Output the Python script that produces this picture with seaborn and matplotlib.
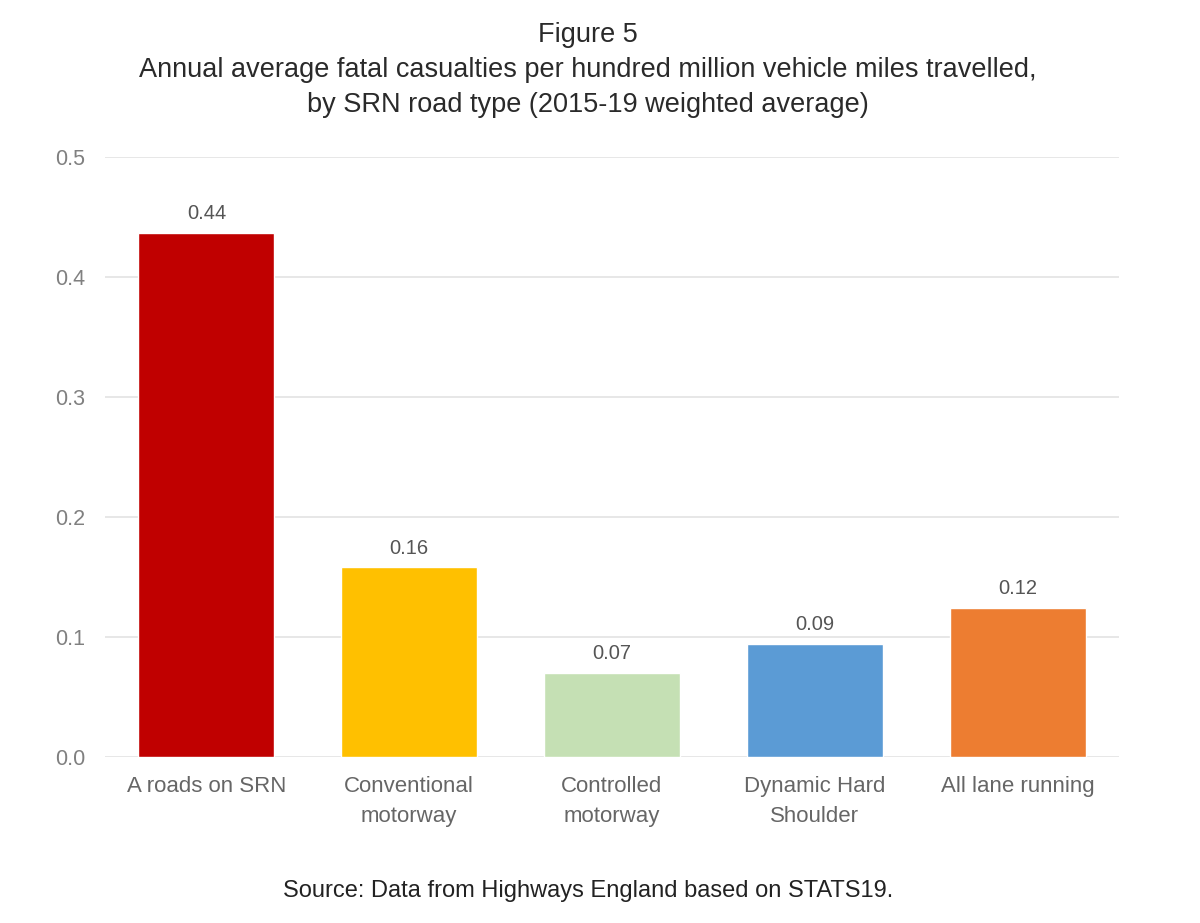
import matplotlib
matplotlib.use("Agg")
import matplotlib.pyplot as plt
import seaborn as sns
import pandas as pd

categories = ["A roads on SRN", "Conventional\nmotorway", "Controlled\nmotorway",
              "Dynamic Hard\nShoulder", "All lane running"]
values = [0.437, 0.158, 0.070, 0.094, 0.124]
value_labels = ["0.44", "0.16", "0.07", "0.09", "0.12"]
colors = ["#C00000", "#FFC000", "#C5E0B4", "#5B9BD5", "#ED7D31"]
yticks = [0.0, 0.1, 0.2, 0.3, 0.4, 0.5]

df = pd.DataFrame({"road_type": categories, "rate": values})

sns.set_theme(style="white")
plt.rcParams["font.family"] = ["Liberation Sans", "DejaVu Sans"]

fig = plt.figure(figsize=(12, 9.23), dpi=100)
ax = fig.add_axes([0.0875, 0.18, 0.845, 0.65])

sns.barplot(data=df, x="road_type", y="rate", hue="road_type", palette=colors,
            legend=False, width=0.67, saturation=1, ax=ax, zorder=3)

for i, (v, lab) in enumerate(zip(values, value_labels)):
    ax.text(i, v + 0.008, lab, ha="center", va="bottom", fontsize=14.5, color="#555555")

ax.set_ylim(0, 0.5)
ax.set_yticks(yticks)
ax.set_yticklabels([f"{t:.1f}" for t in yticks], fontsize=15.5, color="#808080")
ax.set_xticks(range(len(categories)))
ax.set_xticklabels(categories, fontsize=16, color="#666666", linespacing=1.55)
ax.tick_params(axis="x", length=0, pad=14)
ax.tick_params(axis="y", length=0, pad=14)
ax.yaxis.grid(True, color="#e3e3e3", linewidth=1.2, zorder=0)
ax.set_xlabel("")
ax.set_ylabel("")
for s in ax.spines.values():
    s.set_visible(False)

title_kw = dict(ha="center", va="center", fontsize=19.5, color="#2a2a2a")
fig.text(0.49, 0.962, "Figure 5", **title_kw)
fig.text(0.49, 0.924, "Annual average fatal casualties per hundred million vehicle miles travelled,",
         **title_kw)
fig.text(0.49, 0.886, "by SRN road type (2015-19 weighted average)", **title_kw)
fig.text(0.49, 0.035, "Source: Data from Highways England based on STATS19.",
         ha="center", va="center", fontsize=17,
         family=["Liberation Sans Narrow", "Liberation Sans", "DejaVu Sans"], color="#222222")

fig.savefig("out.png", dpi=100)
